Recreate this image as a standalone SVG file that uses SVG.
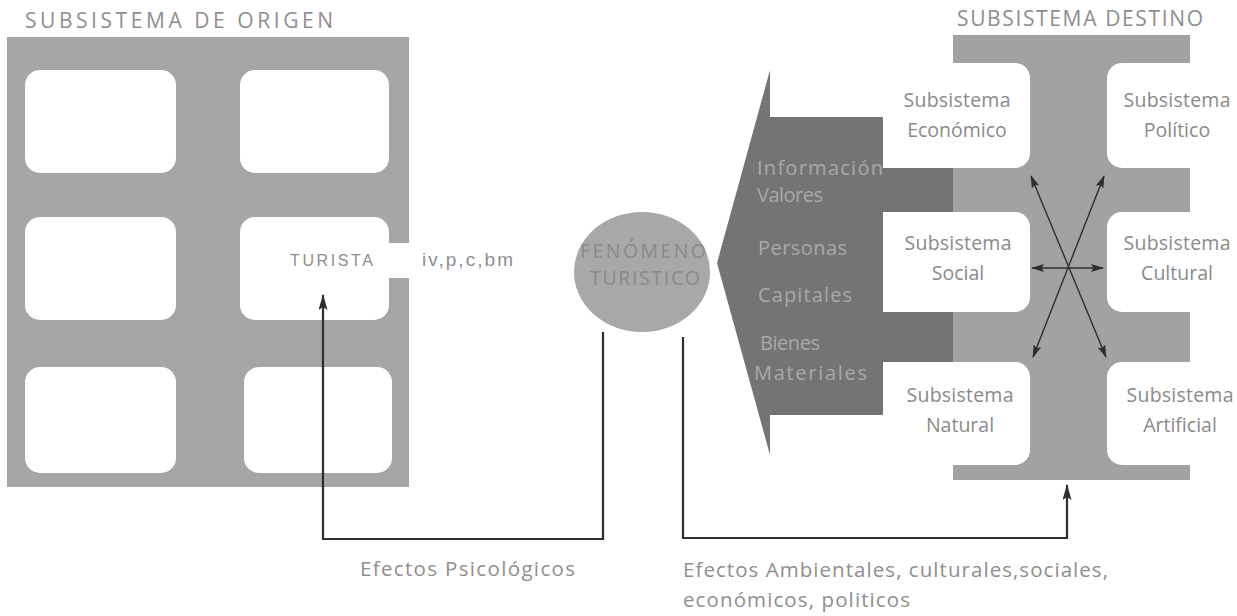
<svg xmlns="http://www.w3.org/2000/svg" width="1237" height="616" viewBox="0 0 1237 616">
<defs>
<style>
.grid{fill:#a6a6a6}
.dgrid{fill:#a2a2a2}
.box{fill:#ffffff}
.flow{fill:#747474}
.ttl{font-family:"Open Sans","Liberation Sans",sans-serif;font-size:21px;fill:#8e8e8e}
.lbl{font-family:"Open Sans","Liberation Sans",sans-serif;font-size:19.5px;fill:#8a8a8a;text-anchor:middle}
.ftx{font-family:"Open Sans","Liberation Sans",sans-serif;font-size:20px;fill:#a9a9a9}
.eff{font-family:"Open Sans","Liberation Sans",sans-serif;font-size:20.5px;fill:#8e8e8e}
.ar{font-family:"Liberation Sans",Arial,sans-serif;fill:#8e8e8e}
.con{fill:none;stroke:#2e2e2e;stroke-width:2.2}
.xar{fill:none;stroke:#2e2e2e;stroke-width:1.4}
</style>
<marker id="ah" viewBox="0 0 16 9" refX="15" refY="4.5" markerWidth="16" markerHeight="9" markerUnits="userSpaceOnUse" orient="auto-start-reverse">
<path d="M0,0 L16,4.5 L0,9 L3,4.5 z" fill="#2e2e2e"/>
</marker>
<marker id="ahs" viewBox="0 0 13 8" refX="12" refY="4" markerWidth="13" markerHeight="8" markerUnits="userSpaceOnUse" orient="auto-start-reverse">
<path d="M0,0 L13,4 L0,8 L2.5,4 z" fill="#2e2e2e"/>
</marker>
</defs>

<g id="origen">
<text class="ttl" x="25" y="28" textLength="308" lengthAdjust="spacing">SUBSISTEMA DE ORIGEN</text>
<rect class="grid" x="7" y="37" width="402" height="450"/>
<rect class="box" x="25" y="70" width="151" height="103" rx="15"/>
<rect class="box" x="240" y="70" width="149" height="103" rx="15"/>
<rect class="box" x="25" y="217" width="151" height="103" rx="15"/>
<rect class="box" x="25" y="367" width="151" height="106" rx="15"/>
<rect class="box" x="244" y="367" width="148" height="106" rx="15"/>
</g>

<g id="turista">
<rect class="box" x="240" y="217" width="149" height="103" rx="15"/>
<rect class="box" x="380" y="243" width="32" height="35"/>
<text class="ar" x="290" y="266" font-size="16" textLength="83" lengthAdjust="spacing">TURISTA</text>
<text class="ar" x="422" y="266" font-size="19" textLength="91" lengthAdjust="spacing">iv,p,c,bm</text>
</g>

<g id="fenomeno">
<ellipse cx="642" cy="272" rx="68" ry="60" fill="#a8a8a8"/>
<text class="lbl" x="643" y="258" fill="#848484" font-size="20" textLength="126" lengthAdjust="spacing">FENÓMENO</text>
<text class="lbl" x="645" y="285" fill="#848484" font-size="20" textLength="110" lengthAdjust="spacing">TURISTICO</text>
</g>

<g id="destino">
<text class="ttl" x="957" y="26" textLength="246" lengthAdjust="spacing">SUBSISTEMA DESTINO</text>
<rect class="dgrid" x="953" y="35" width="237" height="445"/>
<rect class="box" x="860" y="63" width="170" height="105" rx="15"/>
<rect class="box" x="860" y="212" width="170" height="100" rx="15"/>
<rect class="box" x="860" y="362" width="170" height="103" rx="15"/>
<rect class="box" x="1107" y="63" width="150" height="105" rx="15"/>
<rect class="box" x="1107" y="212" width="150" height="100" rx="15"/>
<rect class="box" x="1107" y="362" width="150" height="103" rx="15"/>
</g>

<g id="flujo">
<polygon class="flow" points="770,70 770,117 883,117 883,168 953,168 953,212 883,212 883,312 953,312 953,362 883,362 883,415 770,415 770,455 717,263"/>
<text class="ftx" x="757" y="175" textLength="126" lengthAdjust="spacing">Información</text>
<text class="ftx" x="757" y="202" textLength="66" lengthAdjust="spacing">Valores</text>
<text class="ftx" x="758" y="255" textLength="89" lengthAdjust="spacing">Personas</text>
<text class="ftx" x="758" y="302" textLength="94" lengthAdjust="spacing">Capitales</text>
<text class="ftx" x="760" y="350" textLength="60" lengthAdjust="spacing">Bienes</text>
<text class="ftx" x="754" y="380" textLength="113" lengthAdjust="spacing">Materiales</text>
</g>

<g id="economico">
<text class="lbl" x="957" y="107" textLength="107" lengthAdjust="spacing">Subsistema</text>
<text class="lbl" x="957" y="137">Económico</text>
</g>
<g id="politico">
<text class="lbl" x="1177" y="107" textLength="107" lengthAdjust="spacing">Subsistema</text>
<text class="lbl" x="1177" y="137">Político</text>
</g>
<g id="social">
<text class="lbl" x="958" y="250" textLength="107" lengthAdjust="spacing">Subsistema</text>
<text class="lbl" x="958" y="280">Social</text>
</g>
<g id="cultural">
<text class="lbl" x="1177" y="250" textLength="107" lengthAdjust="spacing">Subsistema</text>
<text class="lbl" x="1177" y="280">Cultural</text>
</g>
<g id="natural">
<text class="lbl" x="960" y="402" textLength="107" lengthAdjust="spacing">Subsistema</text>
<text class="lbl" x="960" y="432">Natural</text>
</g>
<g id="artificial">
<text class="lbl" x="1180" y="402" textLength="107" lengthAdjust="spacing">Subsistema</text>
<text class="lbl" x="1180" y="432">Artificial</text>
</g>

<g id="connectors">
<path class="con" d="M603,332 V539 H323 V295" marker-end="url(#ah)"/>
<path class="con" d="M683,337 V538 H1067 V485" marker-end="url(#ah)"/>
<line class="xar" x1="1031" y1="176" x2="1106" y2="357" marker-start="url(#ahs)" marker-end="url(#ahs)"/>
<line class="xar" x1="1104" y1="176" x2="1033" y2="357" marker-start="url(#ahs)" marker-end="url(#ahs)"/>
<line class="xar" x1="1032" y1="268" x2="1103" y2="268" marker-start="url(#ahs)" marker-end="url(#ahs)"/>
</g>

<g id="labels">
<text class="eff" x="360" y="576" textLength="215" lengthAdjust="spacing">Efectos Psicológicos</text>
<text class="eff" x="683" y="577" textLength="425" lengthAdjust="spacing">Efectos Ambientales, culturales,sociales,</text>
<text class="eff" x="683" y="607" textLength="227" lengthAdjust="spacing">económicos, politicos</text>
</g>
</svg>
